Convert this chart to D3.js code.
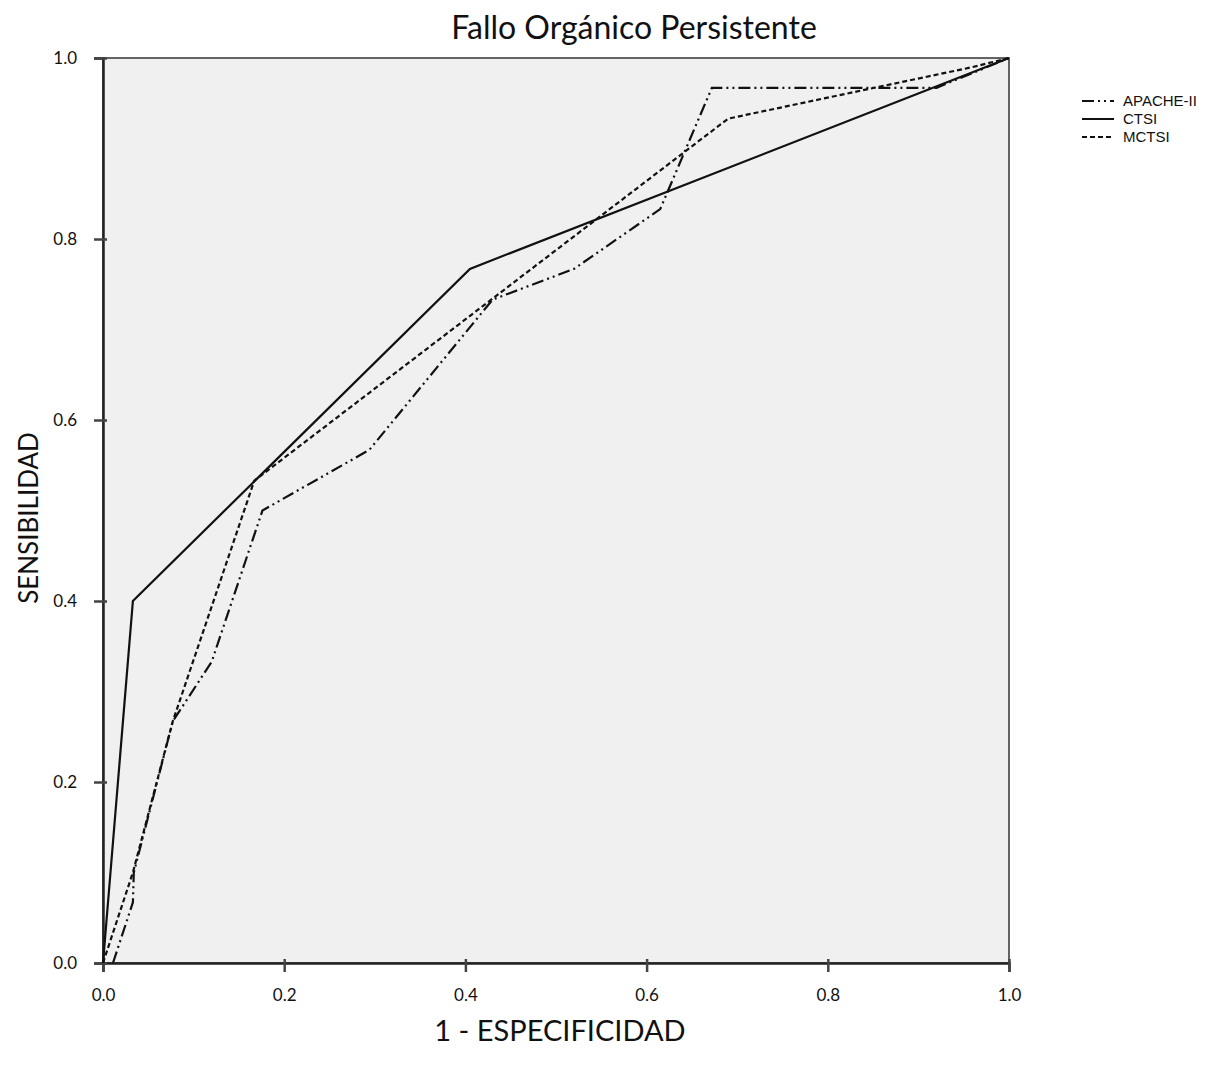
<!DOCTYPE html>
<html>
<head>
<meta charset="utf-8">
<script src="https://cdn.jsdelivr.net/npm/d3@7"></script>
<style>
  body { margin: 0; background: #fff; }
  svg { display: block; }
</style>
</head>
<body>
<div id="chart"></div>
<script>
// ROC curves: [1 - especificidad, sensibilidad]
const apachePoints = [
  [0.011, 0], [0.033, 0.067], [0.034, 0.1], [0.077, 0.267], [0.12, 0.333],
  [0.176, 0.5], [0.294, 0.567], [0.43, 0.733], [0.52, 0.767], [0.615, 0.833],
  [0.672, 0.967], [0.92, 0.967], [1, 1]
];
const ctsiPoints = [[0, 0], [0.033, 0.4], [0.405, 0.767], [1, 1]];
const mctsiPoints = [
  [0, 0], [0.033, 0.1], [0.077, 0.267], [0.167, 0.533], [0.69, 0.933],
  [0.96, 0.99], [1, 1]
];
const seriesNames = ["APACHE-II", "CTSI", "MCTSI"];
const tickValues = [0, 0.2, 0.4, 0.6, 0.8, 1.0];

const series = [
  { name: seriesNames[0], points: apachePoints, dash: "12,4,2,4,2,4" },
  { name: seriesNames[1], points: ctsiPoints, dash: null },
  { name: seriesNames[2], points: mctsiPoints, dash: "5,3" }
];

const W = 1227, H = 1068;
const plotLeft = 103, plotRight = 1009, plotTop = 58, plotBottom = 963;
const font = "Lato, 'Open Sans', sans-serif";

const svg = d3.select("#chart").append("svg")
    .attr("width", W)
    .attr("height", H);

const x = d3.scaleLinear().domain([0, 1]).range([plotLeft, plotRight]);
const y = d3.scaleLinear().domain([0, 1]).range([plotBottom, plotTop]);

// plot background
svg.append("rect")
    .attr("x", plotLeft).attr("y", plotTop)
    .attr("width", plotRight - plotLeft).attr("height", plotBottom - plotTop)
    .attr("fill", "#f0f0f0")
    .attr("stroke", "#333")
    .attr("stroke-width", 1.5);

// axes
const xAxis = svg.append("g")
    .attr("transform", `translate(0,${plotBottom})`)
    .call(d3.axisBottom(x).tickValues(tickValues).tickSize(9).tickPadding(17).tickFormat(d3.format(".1f")));
const yAxis = svg.append("g")
    .attr("transform", `translate(${plotLeft},0)`)
    .call(d3.axisLeft(y).tickValues(tickValues).tickSize(9).tickPadding(17).tickFormat(d3.format(".1f")));

[xAxis, yAxis].forEach(g => {
  g.select(".domain").attr("stroke", "#222").attr("stroke-width", 2.5);
  g.selectAll(".tick line").attr("stroke", "#444").attr("stroke-width", 2.5);
  g.selectAll(".tick text")
      .style("font-family", font)
      .style("font-size", "17px")
      .attr("fill", "#111");
});
xAxis.selectAll(".tick line").attr("y1", -4);
yAxis.selectAll(".tick line").attr("x1", 4).attr("x2", -9);

// curves
const line = d3.line().x(d => x(d[0])).y(d => y(d[1]));

svg.append("g").selectAll("path")
    .data(series)
  .enter().append("path")
    .attr("d", d => line(d.points))
    .attr("fill", "none")
    .attr("stroke", "#111")
    .attr("stroke-width", 2.2)
    .attr("stroke-dasharray", d => d.dash);

// legend
const legend = svg.append("g").attr("transform", "translate(1082,101)");
const item = legend.selectAll("g")
    .data(series)
  .enter().append("g")
    .attr("transform", (d, i) => `translate(0,${i * 18})`);
item.append("line")
    .attr("x1", 0).attr("x2", 32)
    .attr("stroke", "#111")
    .attr("stroke-width", 2)
    .attr("stroke-dasharray", d => d.dash);
item.append("text")
    .attr("x", 41).attr("dy", "0.35em")
    .style("font-family", "'Liberation Sans', Arial, sans-serif")
    .style("font-size", "15px")
    .attr("fill", "#111")
    .text(d => d.name);

// titles
svg.append("text")
    .attr("x", 634).attr("y", 39)
    .attr("text-anchor", "middle")
    .style("font-family", font)
    .style("font-size", "32px")
    .attr("fill", "#111")
    .text("Fallo Orgánico Persistente");

svg.append("text")
    .attr("x", 560).attr("y", 1041)
    .attr("text-anchor", "middle")
    .style("font-family", font)
    .style("font-size", "29px")
    .attr("fill", "#111")
    .text("1 - ESPECIFICIDAD");

svg.append("text")
    .attr("transform", "translate(38,518) rotate(-90)")
    .attr("text-anchor", "middle")
    .style("font-family", font)
    .style("font-size", "26px")
    .attr("fill", "#111")
    .text("SENSIBILIDAD");
</script>
</body>
</html>
